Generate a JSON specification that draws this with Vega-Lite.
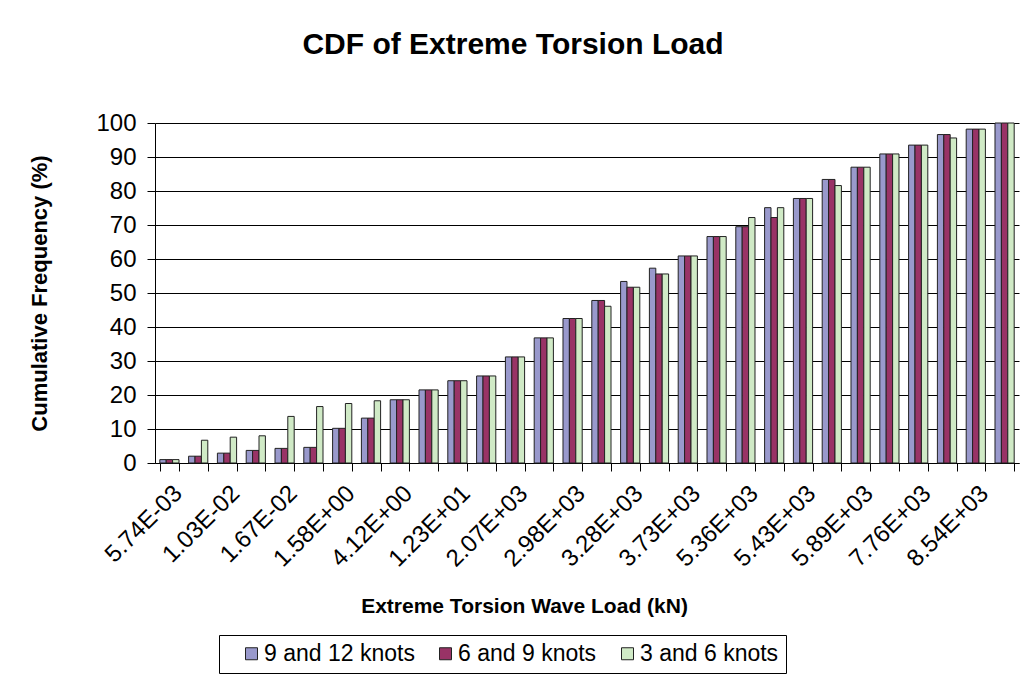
{
  "$schema": "https://vega.github.io/schema/vega-lite/v6.json",
  "width": 864,
  "height": 340,
  "autosize": {"type": "none"},
  "padding": {"left": 155, "top": 123, "right": 7, "bottom": 222},
  "background": "white",
  "config": {"font": "Liberation Sans", "view": {"stroke": null}},
  "title": {
    "text": "CDF of Extreme Torsion Load",
    "fontSize": 30,
    "fontWeight": "bold",
    "font": "Liberation Sans",
    "color": "black",
    "anchor": "middle",
    "frame": "group",
    "dx": -74,
    "baseline": "alphabetic",
    "offset": 27
  },
  "data": {
    "values": [
      {"rank": 1, "9 and 12 knots": 1.0, "6 and 9 knots": 1.0, "3 and 6 knots": 1.0},
      {"rank": 2, "9 and 12 knots": 2.0, "6 and 9 knots": 2.0, "3 and 6 knots": 6.7},
      {"rank": 3, "9 and 12 knots": 2.9, "6 and 9 knots": 2.9, "3 and 6 knots": 7.6},
      {"rank": 4, "9 and 12 knots": 3.7, "6 and 9 knots": 3.7, "3 and 6 knots": 8.0},
      {"rank": 5, "9 and 12 knots": 4.3, "6 and 9 knots": 4.3, "3 and 6 knots": 13.7},
      {"rank": 6, "9 and 12 knots": 4.6, "6 and 9 knots": 4.6, "3 and 6 knots": 16.6},
      {"rank": 7, "9 and 12 knots": 10.2, "6 and 9 knots": 10.2, "3 and 6 knots": 17.5},
      {"rank": 8, "9 and 12 knots": 13.2, "6 and 9 knots": 13.2, "3 and 6 knots": 18.3},
      {"rank": 9, "9 and 12 knots": 18.6, "6 and 9 knots": 18.6, "3 and 6 knots": 18.6},
      {"rank": 10, "9 and 12 knots": 21.5, "6 and 9 knots": 21.5, "3 and 6 knots": 21.5},
      {"rank": 11, "9 and 12 knots": 24.2, "6 and 9 knots": 24.2, "3 and 6 knots": 24.2},
      {"rank": 12, "9 and 12 knots": 25.6, "6 and 9 knots": 25.6, "3 and 6 knots": 25.6},
      {"rank": 13, "9 and 12 knots": 31.2, "6 and 9 knots": 31.2, "3 and 6 knots": 31.2},
      {"rank": 14, "9 and 12 knots": 36.8, "6 and 9 knots": 36.8, "3 and 6 knots": 36.8},
      {"rank": 15, "9 and 12 knots": 42.5, "6 and 9 knots": 42.5, "3 and 6 knots": 42.5},
      {"rank": 16, "9 and 12 knots": 47.8, "6 and 9 knots": 47.8, "3 and 6 knots": 46.1},
      {"rank": 17, "9 and 12 knots": 53.4, "6 and 9 knots": 51.7, "3 and 6 knots": 51.7},
      {"rank": 18, "9 and 12 knots": 57.3, "6 and 9 knots": 55.6, "3 and 6 knots": 55.6},
      {"rank": 19, "9 and 12 knots": 60.9, "6 and 9 knots": 60.9, "3 and 6 knots": 60.9},
      {"rank": 20, "9 and 12 knots": 66.6, "6 and 9 knots": 66.6, "3 and 6 knots": 66.6},
      {"rank": 21, "9 and 12 knots": 69.5, "6 and 9 knots": 69.5, "3 and 6 knots": 72.2},
      {"rank": 22, "9 and 12 knots": 75.1, "6 and 9 knots": 72.2, "3 and 6 knots": 75.1},
      {"rank": 23, "9 and 12 knots": 77.8, "6 and 9 knots": 77.8, "3 and 6 knots": 77.8},
      {"rank": 24, "9 and 12 knots": 83.4, "6 and 9 knots": 83.4, "3 and 6 knots": 81.6},
      {"rank": 25, "9 and 12 knots": 87.0, "6 and 9 knots": 87.0, "3 and 6 knots": 87.0},
      {"rank": 26, "9 and 12 knots": 90.9, "6 and 9 knots": 90.9, "3 and 6 knots": 90.9},
      {"rank": 27, "9 and 12 knots": 93.5, "6 and 9 knots": 93.5, "3 and 6 knots": 93.5},
      {"rank": 28, "9 and 12 knots": 96.6, "6 and 9 knots": 96.6, "3 and 6 knots": 95.6},
      {"rank": 29, "9 and 12 knots": 98.2, "6 and 9 knots": 98.2, "3 and 6 knots": 98.2},
      {"rank": 30, "9 and 12 knots": 100, "6 and 9 knots": 100, "3 and 6 knots": 100}
    ]
  },
  "transform": [
    {"fold": ["9 and 12 knots", "6 and 9 knots", "3 and 6 knots"], "as": ["series", "freq"]}
  ],
  "mark": {"type": "bar", "stroke": "#222222", "strokeWidth": 1},
  "encoding": {
    "x": {
      "field": "rank",
      "type": "ordinal",
      "title": "Extreme Torsion Wave Load (kN)",
      "scale": {"paddingInner": 0.3333, "paddingOuter": 0.1667},
      "axis": {
        "labelAngle": -45,
        "labelExpr": "['5.74E-03','','1.03E-02','','1.67E-02','','1.58E+00','','4.12E+00','','1.23E+01','','2.07E+03','','2.98E+03','','3.28E+03','','3.73E+03','','5.36E+03','','5.43E+03','','5.89E+03','','7.76E+03','','8.54E+03',''][datum.value-1]",
        "labelOverlap": false,
        "labelFontSize": 24,
        "labelColor": "black",
        "labelPadding": 10,
        "tickBand": "extent",
        "tickSize": 8,
        "tickColor": "black",
        "domainColor": "black",
        "grid": false,
        "titleFontSize": 21,
        "titleFontWeight": "bold",
        "titleColor": "black",
        "titleX": 369,
        "titleY": 149,
        "titleBaseline": "alphabetic"
      }
    },
    "xOffset": {
      "field": "series",
      "type": "nominal",
      "scale": {"domain": ["9 and 12 knots", "6 and 9 knots", "3 and 6 knots"]}
    },
    "y": {
      "field": "freq",
      "type": "quantitative",
      "title": "Cumulative Frequency (%)",
      "scale": {"domain": [0, 100]},
      "axis": {
        "values": [0, 10, 20, 30, 40, 50, 60, 70, 80, 90, 100],
        "grid": true,
        "gridColor": "black",
        "gridOpacity": 1,
        "gridWidth": 1,
        "domainColor": "black",
        "tickColor": "black",
        "tickSize": 8,
        "labelFontSize": 24,
        "labelColor": "black",
        "labelPadding": 11,
        "titleFontSize": 22,
        "titleFontWeight": "bold",
        "titleColor": "black",
        "titlePadding": 44
      }
    },
    "color": {
      "field": "series",
      "type": "nominal",
      "scale": {
        "domain": ["9 and 12 knots", "6 and 9 knots", "3 and 6 knots"],
        "range": ["#9999CC", "#993366", "#D0EAC6"]
      },
      "legend": {
        "title": null,
        "orient": "none",
        "legendX": 64,
        "legendY": 512,
        "direction": "horizontal",
        "columns": 3,
        "strokeColor": "black",
        "fillColor": "white",
        "padding": 7,
        "labelFontSize": 23,
        "labelColor": "black",
        "labelExpr": "datum.label == '3 and 6 knots' ? datum.label + ' ' : datum.label",
        "symbolType": "square",
        "symbolSize": 144,
        "symbolStrokeColor": "#222222",
        "symbolStrokeWidth": 1,
        "symbolOpacity": 1,
        "symbolOffset": 14,
        "labelOffset": 1,
        "columnPadding": 5
      }
    }
  }
}
